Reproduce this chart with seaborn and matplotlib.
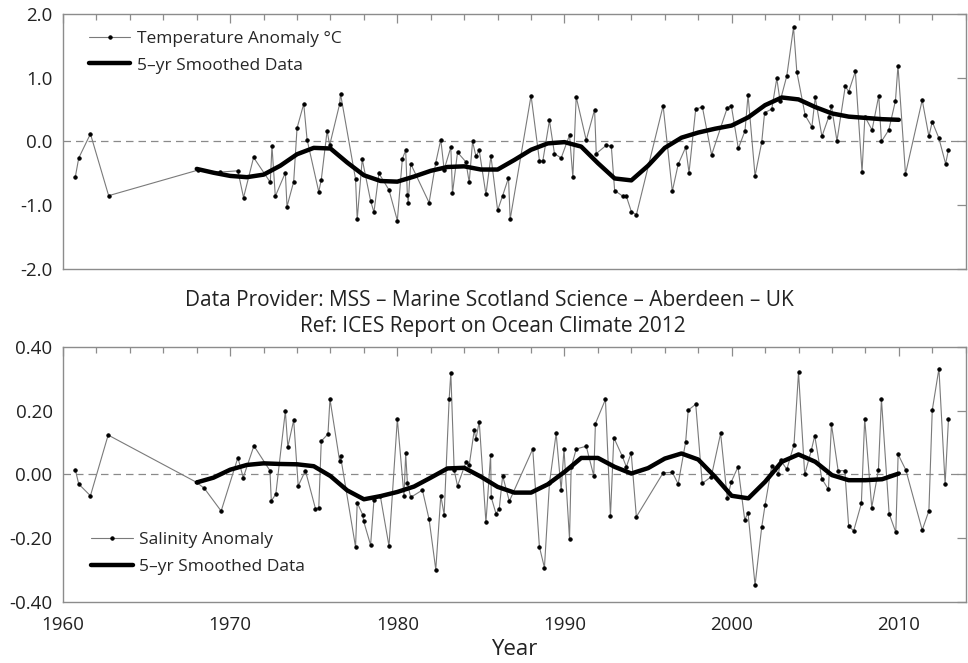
import pandas as pd
import seaborn as sns
import matplotlib.pyplot as plt
from matplotlib.ticker import MultipleLocator, FormatStrFormatter

# Temperature anomaly (deg C), individual surveys
temp_year = [1960.74, 1960.94, 1961.64, 1962.73, 1968.06, 1969.40, 1970.46, 1970.80,
             1971.40, 1972.40, 1972.50, 1972.70, 1973.30, 1973.40, 1973.80, 1974.00,
             1974.40, 1974.60, 1975.30, 1975.45, 1975.80, 1975.95, 1976.55, 1976.60,
             1977.50, 1977.60, 1977.90, 1978.40, 1978.60, 1978.90, 1979.50, 1980.00,
             1980.30, 1980.50, 1980.60, 1980.65, 1980.80, 1981.90, 1982.30, 1982.60,
             1982.80, 1983.20, 1983.30, 1983.60, 1984.10, 1984.30, 1984.50, 1984.70,
             1984.90, 1985.30, 1985.60, 1986.00, 1986.30, 1986.65, 1986.75, 1988.00,
             1988.50, 1988.70, 1989.10, 1989.40, 1989.80, 1990.30, 1990.50, 1990.70,
             1991.30, 1991.80, 1991.90, 1992.50, 1992.80, 1993.00, 1993.50, 1993.70,
             1994.00, 1994.30, 1995.90, 1996.45, 1996.80, 1997.25, 1997.45, 1997.85,
             1998.25, 1998.80, 1999.74, 1999.98, 2000.40, 2000.80, 2000.98, 2001.40,
             2001.80, 2001.97, 2002.40, 2002.70, 2002.90, 2003.30, 2003.70, 2003.90,
             2004.40, 2004.80, 2005.00, 2005.40, 2005.80, 2005.97, 2006.30, 2006.80,
             2007.00, 2007.40, 2007.80, 2007.97, 2008.40, 2008.80, 2008.96, 2009.40,
             2009.80, 2009.95, 2010.40, 2011.40, 2011.80, 2012.00, 2012.40, 2012.80,
             2012.97]
temp_anom = [-0.55, -0.26, 0.12, -0.85, -0.45, -0.48, -0.46, -0.88,
             -0.25, -0.64, -0.07, -0.86, -0.49, -1.02, -0.63, 0.21,
             0.59, 0.03, -0.79, -0.60, 0.17, -0.06, 0.59, 0.75,
             -0.59, -1.22, -0.28, -0.93, -1.11, -0.50, -0.76, -1.24,
             -0.27, -0.14, -0.84, -0.96, -0.35, -0.96, -0.33, 0.03,
             -0.44, -0.09, -0.81, -0.17, -0.32, -0.64, 0.00, -0.23,
             -0.14, -0.83, -0.23, -1.08, -0.85, -0.57, -1.22, 0.72,
             -0.30, -0.31, 0.33, -0.19, -0.26, 0.10, -0.56, 0.70,
             0.02, 0.50, -0.19, -0.06, -0.07, -0.77, -0.86, -0.86,
             -1.10, -1.15, 0.56, -0.78, -0.36, -0.09, -0.49, 0.51,
             0.54, -0.21, 0.53, 0.56, -0.11, 0.17, 0.73, -0.54,
             -0.01, 0.45, 0.51, 0.99, 0.63, 1.03, 1.79, 1.09,
             0.41, 0.23, 0.69, 0.08, 0.38, 0.55, 0.01, 0.87,
             0.78, 1.10, -0.48, 0.39, 0.18, 0.72, 0.00, 0.18,
             0.64, 1.19, -0.51, 0.65, 0.08, 0.31, 0.05, -0.35,
             -0.13]

# 5-yr smoothed series, annual values
smooth_year = list(range(1968, 2011))
temp_smooth = [-0.43, -0.49, -0.54, -0.56, -0.52, -0.38, -0.20, -0.10, -0.11, -0.33,
               -0.53, -0.62, -0.63, -0.55, -0.46, -0.40, -0.39, -0.44, -0.44, -0.29,
               -0.13, -0.03, -0.01, -0.08, -0.34, -0.58, -0.61, -0.38, -0.10, 0.06,
               0.14, 0.20, 0.25, 0.38, 0.57, 0.69, 0.66, 0.54, 0.44, 0.39,
               0.37, 0.35, 0.34]

# Salinity anomaly, individual surveys
sal_year = [1960.74, 1960.94, 1961.64, 1962.70, 1968.00, 1968.46, 1969.46, 1970.46,
            1970.78, 1971.42, 1972.38, 1972.46, 1972.73, 1973.30, 1973.45, 1973.80,
            1974.07, 1974.50, 1975.10, 1975.30, 1975.45, 1975.85, 1975.97, 1976.55,
            1976.60, 1977.50, 1977.60, 1977.94, 1977.98, 1978.40, 1978.60, 1978.98,
            1979.50, 1980.00, 1980.40, 1980.50, 1980.60, 1980.80, 1981.50, 1981.90,
            1982.30, 1982.60, 1982.80, 1983.10, 1983.20, 1983.40, 1983.60, 1984.10,
            1984.30, 1984.60, 1984.70, 1984.90, 1985.30, 1985.58, 1985.62, 1985.90,
            1986.10, 1986.30, 1986.70, 1988.10, 1988.50, 1988.80, 1989.10, 1989.50,
            1989.80, 1989.97, 1990.30, 1990.40, 1990.70, 1991.30, 1991.75, 1991.85,
            1992.45, 1992.75, 1992.95, 1993.45, 1993.70, 1993.99, 1994.30, 1995.90,
            1996.45, 1996.80, 1997.25, 1997.40, 1997.85, 1998.24, 1998.78, 1999.34,
            1999.74, 1999.98, 2000.38, 2000.78, 2000.98, 2001.40, 2001.80, 2002.00,
            2002.40, 2002.80, 2002.93, 2003.30, 2003.73, 2004.00, 2004.37, 2004.77,
            2004.97, 2005.39, 2005.79, 2005.97, 2006.37, 2006.77, 2007.00, 2007.30,
            2007.76, 2007.96, 2008.38, 2008.78, 2008.96, 2009.42, 2009.82, 2009.96,
            2010.42, 2011.40, 2011.80, 2012.00, 2012.40, 2012.77, 2012.97]
sal_anom = [0.014, -0.030, -0.067, 0.124, -0.025, -0.044, -0.115, 0.053,
            -0.010, 0.090, 0.012, -0.083, -0.062, 0.199, 0.087, 0.171,
            -0.036, 0.012, -0.107, -0.105, 0.105, 0.127, 0.237, 0.042,
            0.058, -0.228, -0.089, -0.128, -0.146, -0.222, -0.081, -0.067,
            -0.225, 0.174, -0.068, 0.066, -0.026, -0.072, -0.049, -0.141,
            -0.299, -0.067, -0.126, 0.237, 0.320, 0.014, -0.036, 0.038,
            0.029, 0.139, 0.111, 0.166, -0.151, 0.061, -0.072, -0.123,
            -0.107, -0.004, -0.084, 0.080, -0.228, -0.293, -0.028, 0.129,
            -0.049, 0.080, -0.203, 0.022, 0.080, 0.089, -0.004, 0.160,
            0.236, -0.131, 0.116, 0.058, 0.024, 0.068, -0.133, 0.005,
            0.007, -0.030, 0.103, 0.202, 0.221, -0.028, -0.007, 0.129,
            -0.075, -0.023, 0.024, -0.142, -0.121, -0.348, -0.165, -0.096,
            0.027, 0.003, 0.045, 0.016, 0.094, 0.321, 0.000, 0.077,
            0.122, -0.013, -0.047, 0.158, 0.012, 0.012, -0.163, -0.177,
            -0.091, 0.176, -0.104, 0.014, 0.237, -0.123, -0.182, 0.063,
            0.014, -0.175, -0.114, 0.202, 0.333, -0.030, 0.173]
sal_smooth = [-0.025, -0.010, 0.015, 0.030, 0.035, 0.033, 0.032, 0.026, -0.005, -0.050,
              -0.078, -0.068, -0.055, -0.038, -0.010, 0.019, 0.021, -0.007, -0.039, -0.057,
              -0.057, -0.031, 0.008, 0.052, 0.052, 0.024, 0.003, 0.020, 0.050, 0.066,
              0.047, -0.007, -0.067, -0.075, -0.023, 0.040, 0.063, 0.040, -0.002, -0.018,
              -0.018, -0.015, 0.003]

sns.set_theme(style="white")
plt.rcParams["font.family"] = ["Open Sans", "DejaVu Sans"]
plt.rcParams["axes.unicode_minus"] = True

SPINE = "#8c8c8c"
RAW = "#7a7a7a"
TEXT = "#222222"

fig = plt.figure(figsize=(9.68, 6.63), dpi=100)
ax1 = fig.add_axes([0.0651, 0.5943, 0.9325, 0.3846])
ax2 = fig.add_axes([0.0651, 0.0925, 0.9325, 0.3837])


def draw_panel(ax, yr, val, sm, raw_label):
    ax.axhline(0, color="#8a8a8a", lw=0.9, ls=(0, (6, 4)), zorder=1)
    sns.lineplot(x=yr, y=val, ax=ax, color=RAW, lw=0.8, marker="o", markersize=2.4,
                 markerfacecolor="black", markeredgecolor="black", label=raw_label,
                 sort=False, estimator=None, zorder=2)
    sns.lineplot(x=smooth_year, y=sm, ax=ax, color="black", lw=3.2,
                 label="5\u2013yr Smoothed Data", sort=False, estimator=None, zorder=3)
    ax.set_xlim(1960, 2014)
    ax.xaxis.set_major_locator(MultipleLocator(10))
    ax.xaxis.set_minor_locator(MultipleLocator(2))
    ax.tick_params(which="both", direction="in", top=True, right=True,
                   color=SPINE, labelsize=13.5, labelcolor=TEXT)
    ax.tick_params(axis="y", pad=7.5)
    ax.tick_params(axis="x", pad=10)
    ax.tick_params(which="major", length=6.5, width=0.9)
    ax.tick_params(which="minor", length=4, width=0.9)
    for s in ax.spines.values():
        s.set_color(SPINE)
        s.set_linewidth(1.0)
    ax.set_xlabel("")
    ax.set_ylabel("")


legend_kw = dict(frameon=False, fontsize=12.5, handlelength=2.4, handletextpad=0.35,
                 labelspacing=0.6, borderaxespad=0.2)

draw_panel(ax1, temp_year, temp_anom, temp_smooth, "Temperature Anomaly \u00b0C")
ax1.set_ylim(-2.0, 2.0)
ax1.yaxis.set_major_locator(MultipleLocator(1.0))
ax1.yaxis.set_major_formatter(FormatStrFormatter("%.1f"))
ax1.tick_params(axis="x", labelbottom=False)
ax1.legend(loc="upper left", bbox_to_anchor=(0.017, 0.975), **legend_kw)

draw_panel(ax2, sal_year, sal_anom, sal_smooth, "Salinity Anomaly")
ax2.set_ylim(-0.40, 0.40)
ax2.yaxis.set_major_locator(MultipleLocator(0.20))
ax2.yaxis.set_major_formatter(FormatStrFormatter("%.2f"))
ax2.set_xlabel("Year", fontsize=16, color=TEXT, labelpad=4)
ax2.legend(loc="lower left", bbox_to_anchor=(0.020, 0.065), **legend_kw)

fig.text(0.506, 0.5475, "Data Provider: MSS \u2013 Marine Scotland Science \u2013 Aberdeen \u2013 UK",
         ha="center", va="center", fontsize=15, color=TEXT)
fig.text(0.509, 0.508, "Ref: ICES Report on Ocean Climate 2012",
         ha="center", va="center", fontsize=15, color=TEXT)

fig.savefig("out.png", dpi=100)
